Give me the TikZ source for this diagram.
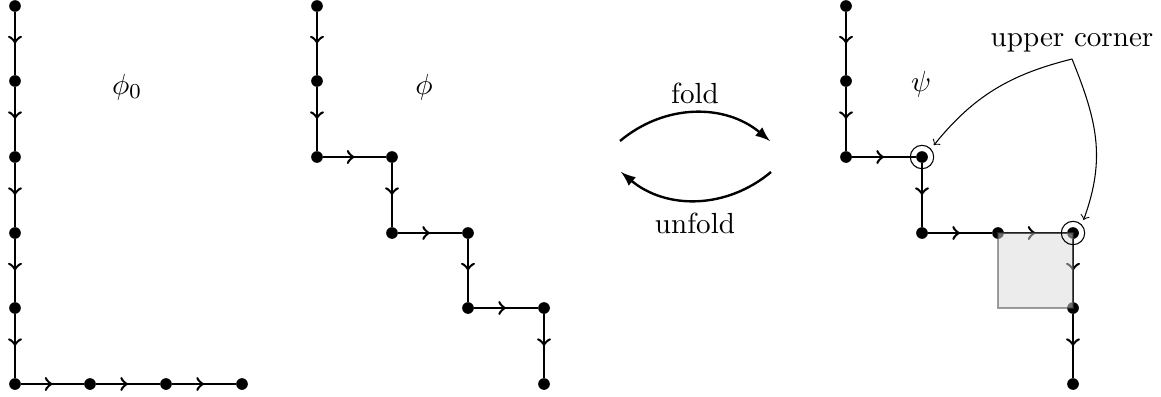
\documentclass[tikz,border=0pt]{standalone}
\usetikzlibrary{decorations.markings}
\tikzset{
  vtx/.style={circle,fill=black,inner sep=0pt,minimum size=4.4pt},
  ring/.style={circle,draw=black,line width=0.4pt,inner sep=0pt,minimum size=8.8pt,fill=none,outer sep=1.9pt},
  edgeline/.style={line width=0.95pt,decoration={markings,mark=at position 0.5 with {\arrow{>}}},postaction={decorate}},
  bendarrow/.style={line width=0.9pt,-latex},
  thinarrow/.style={line width=0.4pt,->},
  lbl/.style={font=\fontsize{10.95}{13}\selectfont,inner sep=0pt},
  sq/.style={draw=black!75,fill=gray!30,opacity=0.5,line width=0.4pt},
}
\newcommand{\vx}[3]{\node[vtx] (#1) at (#2,#3) {};}
\begin{document}
\begin{tikzpicture}[x=0.013228cm,y=-0.013228cm]
\useasboundingbox (0,0) rectangle (1161,396);
% phi_0
\vx{a1}{15}{6}\vx{a2}{15}{81}\vx{a3}{15}{157}\vx{a4}{15}{233}\vx{a5}{15}{308}\vx{a6}{15}{384}
\vx{a7}{90}{384}\vx{a8}{166}{384}\vx{a9}{242}{384}
\foreach \p/\q in {a1/a2,a2/a3,a3/a4,a4/a5,a5/a6,a6/a7,a7/a8,a8/a9}
  \draw[edgeline] (\p) -- (\q);
% phi
\vx{b1}{317}{6}\vx{b2}{317}{81}\vx{b3}{317}{157}\vx{b4}{392}{157}\vx{b5}{392}{233}
\vx{b6}{468}{233}\vx{b7}{468}{308}\vx{b8}{544}{308}\vx{b9}{544}{384}
\foreach \p/\q in {b1/b2,b2/b3,b3/b4,b4/b5,b5/b6,b6/b7,b7/b8,b8/b9}
  \draw[edgeline] (\p) -- (\q);
% psi
\vx{c1}{846}{6}\vx{c2}{846}{81}\vx{c3}{846}{157}\vx{c4}{922}{157}\vx{c5}{922}{233}
\vx{c6}{998}{233}\vx{c7}{1073}{233}\vx{c8}{1073}{308}\vx{c9}{1073}{384}
\foreach \p/\q in {c1/c2,c2/c3,c3/c4,c4/c5,c5/c6,c6/c7,c7/c8,c8/c9}
  \draw[edgeline] (\p) -- (\q);
\draw[sq] (c6.center) rectangle (c8.center);
\node[ring] (r1) at (c4) {};
\node[ring] (r2) at (c7) {};
% labels
\node[lbl] (l0) at (127,87) {$\phi_0$};
\node[lbl] (l1) at (424,87) {$\phi$};
\node[lbl] (l2) at (921,84) {$\psi$};
\node[lbl] (fold) at (695,93) {fold};
\node[lbl] (unfold) at (695,223) {unfold};
\node[lbl] (uc) at (1072,43) {upper corner};
% fold arrows
\coordinate (f1) at (620,141);
\coordinate (f2) at (770,141);
\coordinate (u1) at (771,172);
\coordinate (u2) at (621,172);
\draw[bendarrow] (f1) to[bend left=40] (f2);
\draw[bendarrow] (u1) to[bend left=40] (u2);
% corner arrows
\coordinate (ucs) at (1072,59);
\draw[thinarrow] (ucs) to[out=194,in=51] (r1.45);
\draw[thinarrow] (ucs) to[out=-68,in=70,looseness=1.05] (r2.51);
\end{tikzpicture}
\end{document}
